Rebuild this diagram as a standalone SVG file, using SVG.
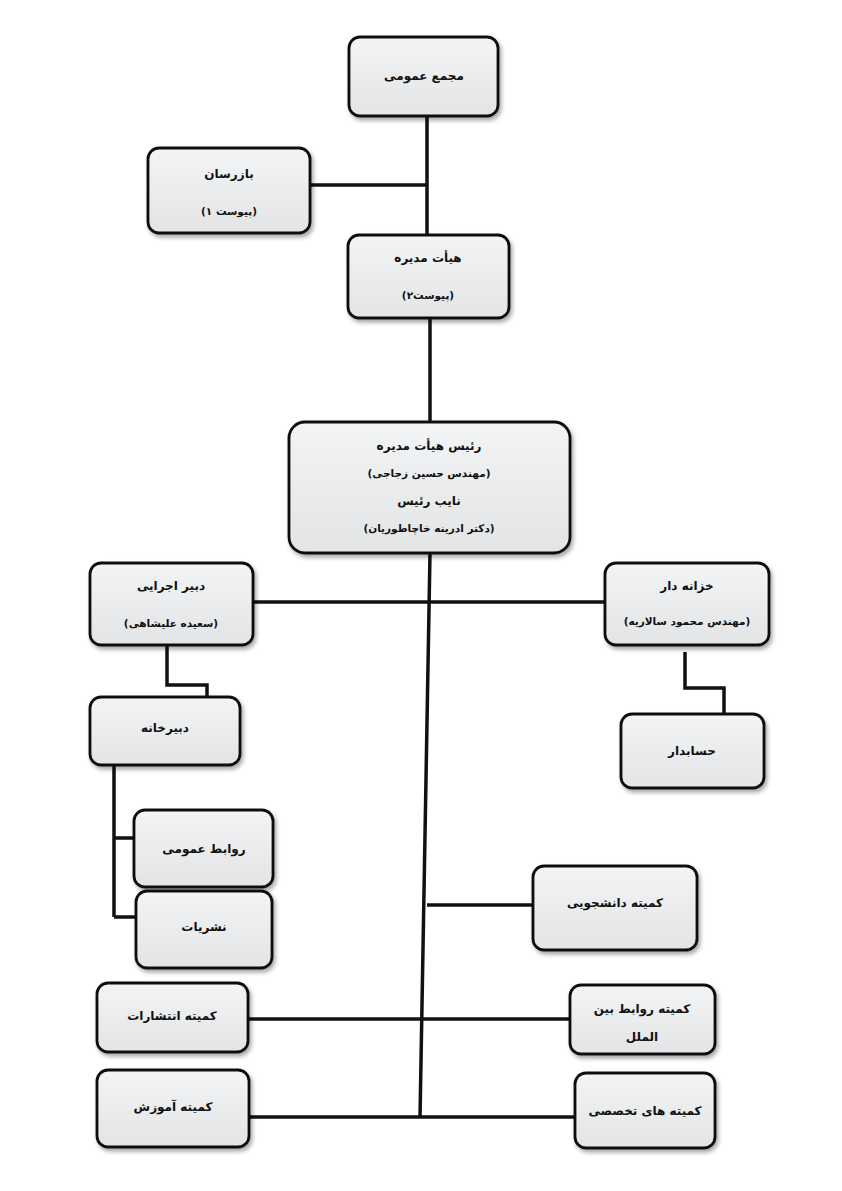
<svg xmlns="http://www.w3.org/2000/svg" width="842" height="1191" viewBox="0 0 842 1191">
<defs>
<linearGradient id="g" x1="0" y1="0" x2="0" y2="1">
<stop offset="0" stop-color="#f3f4f5"/>
<stop offset="1" stop-color="#e2e4e6"/>
</linearGradient>
<filter id="sh" x="-10%" y="-10%" width="125%" height="130%">
<feDropShadow dx="2" dy="3" stdDeviation="2" flood-color="#000" flood-opacity="0.35"/>
</filter>
</defs>
<style>
.box{fill:url(#g);stroke:#111;stroke-width:2.8;filter:url(#sh)}
.t{font-family:"DejaVu Sans",sans-serif;font-weight:bold;font-size:12px;fill:#111;text-anchor:middle;direction:rtl}
.s{font-size:10.5px}
.c{fill:none;stroke:#111;stroke-width:3.5}
</style>
<rect width="842" height="1191" fill="#fff"/>
<g id="connectors">
<path class="c" d="M427 116 V236 M310 185 H427"/>
<path class="c" d="M430 318 V422"/>
<path class="c" d="M430 553 L420 1118"/>
<path class="c" d="M253 602 H605"/>
<path class="c" d="M167 645 V685 H207 V697"/>
<path class="c" d="M685 652 V688 H724 V714"/>
<path class="c" d="M114 765 V917 M114 838 H134 M114 917 H136"/>
<path class="c" d="M427 905 H533"/>
<path class="c" d="M248 1019 H570"/>
<path class="c" d="M249 1117 H575"/>
</g>
<g id="n1"><rect class="box" x="349" y="37" width="149" height="79" rx="11"/><text class="t" x="424" y="80">مجمع عمومی</text></g>
<g id="n2"><rect class="box" x="148" y="148" width="162" height="85" rx="11"/><text class="t" x="229" y="178">بازرسان</text><text class="t s" x="229" y="215">(پیوست ۱)</text></g>
<g id="n3"><rect class="box" x="348" y="235" width="161" height="83" rx="11"/><text class="t" x="428" y="262">هیأت مدیره</text><text class="t s" x="428" y="299">(پیوست۲)</text></g>
<g id="n4"><rect class="box" x="289" y="422" width="281" height="131" rx="16"/><text class="t" x="429" y="450">رئیس هیأت مدیره</text><text class="t s" x="429" y="477">(مهندس حسین زجاجی)</text><text class="t" x="429" y="505">نایب رئیس</text><text class="t s" x="429" y="532">(دکتر ادرینه خاچاطوریان)</text></g>
<g id="n5"><rect class="box" x="90" y="563" width="163" height="82" rx="11"/><text class="t" x="171" y="590">دبیر اجرایی</text><text class="t s" x="171" y="627">(سعیده علیشاهی)</text></g>
<g id="n6"><rect class="box" x="605" y="563" width="164" height="82" rx="11"/><text class="t" x="687" y="590">خزانه دار</text><text class="t s" x="687" y="625">(مهندس محمود سالاریه)</text></g>
<g id="n7"><rect class="box" x="90" y="697" width="150" height="68" rx="11"/><text class="t" x="165" y="732">دبیرخانه</text></g>
<g id="n8"><rect class="box" x="621" y="714" width="143" height="74" rx="11"/><text class="t" x="692" y="755">حسابدار</text></g>
<g id="n9"><rect class="box" x="134" y="810" width="139" height="77" rx="11"/><text class="t" x="204" y="853">روابط عمومی</text></g>
<g id="n10"><rect class="box" x="136" y="891" width="136" height="77" rx="11"/><text class="t" x="204" y="931">نشریات</text></g>
<g id="n11"><rect class="box" x="533" y="866" width="164" height="84" rx="11"/><text class="t" x="615" y="907">کمیته دانشجویی</text></g>
<g id="n12"><rect class="box" x="97" y="983" width="151" height="69" rx="11"/><text class="t" x="172" y="1020">کمیته انتشارات</text></g>
<g id="n13"><rect class="box" x="570" y="985" width="145" height="69" rx="11"/><text class="t" x="642" y="1013">کمیته روابط بین</text><text class="t" x="642" y="1041">الملل</text></g>
<g id="n14"><rect class="box" x="97" y="1070" width="152" height="77" rx="11"/><text class="t" x="173" y="1111">کمیته آموزش</text></g>
<g id="n15"><rect class="box" x="575" y="1073" width="140" height="75" rx="11"/><text class="t" x="645" y="1115">کمیته های تخصصی</text></g>
</svg>
